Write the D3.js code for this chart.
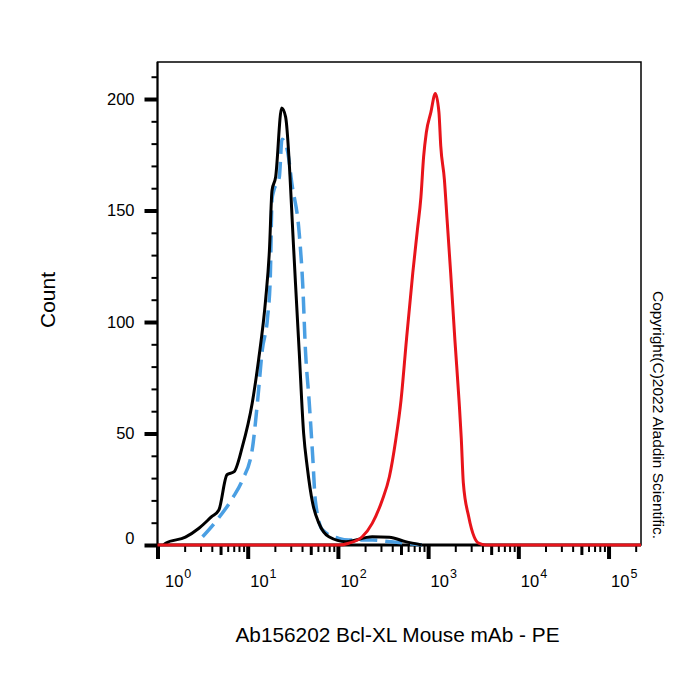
<!DOCTYPE html>
<html>
<head>
<meta charset="utf-8">
<script src="https://cdn.jsdelivr.net/npm/d3@7"></script>
<style>
   body { margin: 0; background: #fff; }
   text { font-family: "Liberation Sans", Arial, sans-serif; fill: #000; }
</style>
</head>
<body>
<div id="chart"></div>
<script>
// fluorescence (PE) values and event counts
const unstainedFL = [1.17, 1.23, 2.04, 2.88, 3.98, 4.79, 5.89, 7.08, 8.71, 11.2, 13.2, 15.8, 17.4, 18.6, 20.4, 23.8, 26.3, 32.4, 33.9, 37.2, 41.7, 45.7, 52.5, 61.7, 79.4, 123, 240, 372, 562, 851];
const unstainedCount = [0, 0.8, 3.5, 7.5, 12.7, 15.7, 31.5, 32.9, 44, 63.5, 83, 110, 132, 159, 165, 196, 192, 132, 117, 87, 50, 35, 18.7, 9.7, 3.7, 1.5, 3.7, 3.5, 1.5, 0];

const isotypeFL = [3.16, 4.57, 6.76, 8.71, 11.2, 12.9, 14.5, 16.6, 17.8, 18.6, 19.5, 22.4, 24.0, 27.5, 30.9, 37.2, 40.7, 43.7, 47.9, 52.5, 56.2, 67.6, 102, 132, 240, 372, 562, 851];
const isotypeCount = [3.7, 11.2, 20.9, 29, 42.6, 65, 87.4, 102, 120, 155, 159, 165, 182, 177, 162, 140, 117, 87, 65, 40, 20, 6.7, 3, 2.2, 2.2, 1.5, 0.8, 0];

const stainedFL = [1, 102, 132, 186, 240, 309, 372, 437, 501, 575, 676, 759, 832, 891, 955, 1072, 1202, 1318, 1380, 1514, 1622, 1778, 1980, 2200, 2330, 2455, 2818, 3236, 3631, 4365, 229000];
const stainedCount = [0, 0, 0.8, 3.7, 9.7, 20, 30.6, 47, 65, 92, 122, 141, 156, 174, 185, 194, 202.5, 194, 179, 164, 146, 122, 92, 65, 48, 28, 12.7, 3.7, 0.8, 0, 0];

const yMajorTicks = [0, 50, 100, 150, 200];
const xDecades = [0, 1, 2, 3, 4, 5];

const xTitle = 'Ab156202 Bcl-XL Mouse mAb - PE';
const yTitle = 'Count';
const copyright = 'Copyright(C)2022 Aladdin Scientific.';

const margin = { left: 157.5, right: 59, top: 62, bottom: 155 };
const width = 700 - margin.left - margin.right;
const height = 700 - margin.top - margin.bottom;

const svg = d3.select('#chart').append('svg')
   .attr('width', 700)
   .attr('height', 700);

const g = svg.append('g')
   .attr('transform', `translate(${margin.left}, ${margin.top})`);

const x = d3.scaleLog()
   .domain([1, 229000])
   .range([0, width]);

const y = d3.scaleLinear()
   .domain([0, 216.6])
   .range([height, 0]);

// minor / medium / major ticks on x
const xMinor = [];
const xMid = [];
xDecades.forEach(p => {
   for (let k = 2; k <= 9; k++) {
      const v = k * Math.pow(10, p);
      if (v > x.domain()[1]) continue;
      (k === 5 ? xMid : xMinor).push(v);
   }
});
const xMajor = xDecades.map(p => Math.pow(10, p));

const yMinor = d3.range(10, 220, 10).filter(v => v % 50 !== 0);

function styleTicks(sel, w) {
   sel.select('.domain').remove();
   sel.selectAll('.tick line').attr('stroke', '#000').attr('stroke-width', w);
}

g.append('g')
   .attr('transform', `translate(0, ${height})`)
   .call(d3.axisBottom(x).tickValues(xMinor).tickSize(7).tickFormat(() => ''))
   .call(s => styleTicks(s, 2));

g.append('g')
   .attr('transform', `translate(0, ${height})`)
   .call(d3.axisBottom(x).tickValues(xMid).tickSize(10).tickFormat(() => ''))
   .call(s => styleTicks(s, 3));

const xAxis = g.append('g')
   .attr('transform', `translate(0, ${height})`)
   .call(d3.axisBottom(x).tickValues(xMajor).tickSize(14).tickFormat(() => ''))
   .call(s => styleTicks(s, 4));

xAxis.selectAll('.tick text').remove();
xAxis.selectAll('.tick').each(function(d) {
   const t = d3.select(this).append('text')
      .attr('x', d === 1 ? 7 : 2)
      .attr('y', 42)
      .attr('text-anchor', 'start')
      .attr('font-size', '16.5px');
   t.append('tspan').text('10');
   t.append('tspan')
      .attr('font-size', '12.5px')
      .attr('dx', 1)
      .attr('dy', -9)
      .text(Math.round(Math.log10(d)));
});

g.append('g')
   .call(d3.axisLeft(y).tickValues(yMinor).tickSize(6).tickFormat(() => ''))
   .call(s => styleTicks(s, 2));

const yAxis = g.append('g')
   .call(d3.axisLeft(y).tickValues(yMajorTicks).tickSize(13).tickPadding(10))
   .call(s => styleTicks(s, 4));

yAxis.selectAll('.tick text')
   .attr('font-size', '16.5px')
   .attr('font-family', '"Liberation Sans", Arial, sans-serif')
   .attr('fill', '#000')
   .attr('dy', d => d === 0 ? '-0.1em' : '0.32em');

// frame
g.append('rect')
   .attr('width', width)
   .attr('height', height)
   .attr('fill', 'none')
   .attr('stroke', '#000')
   .attr('stroke-width', 1.5);

g.append('line')
   .attr('y1', 0)
   .attr('y2', height)
   .attr('stroke', '#000')
   .attr('stroke-width', 2);

g.append('line')
   .attr('x2', width)
   .attr('y1', height)
   .attr('y2', height)
   .attr('stroke', '#000')
   .attr('stroke-width', 3);

const line = d3.line()
   .x(d => x(d[0]))
   .y(d => y(d[1]))
   .curve(d3.curveMonotoneX);

const series = [
   { fl: isotypeFL, count: isotypeCount, color: '#4a9fe3', width: 3.5, dash: '17,8' },
   { fl: unstainedFL, count: unstainedCount, color: '#000000', width: 3, dash: null },
   { fl: stainedFL, count: stainedCount, color: '#e8141b', width: 3, dash: null }
];

series.forEach(s => {
   g.append('path')
      .datum(d3.zip(s.fl, s.count))
      .attr('d', line)
      .attr('fill', 'none')
      .attr('stroke', s.color)
      .attr('stroke-width', s.width)
      .attr('stroke-linejoin', 'round')
      .attr('stroke-dasharray', s.dash);
});

svg.append('text')
   .attr('x', 397.5)
   .attr('y', 642)
   .attr('text-anchor', 'middle')
   .attr('font-size', '20.8px')
   .text(xTitle);

svg.append('text')
   .attr('transform', 'translate(55, 300) rotate(-90)')
   .attr('text-anchor', 'middle')
   .attr('font-size', '21px')
   .text(yTitle);

svg.append('text')
   .attr('transform', 'translate(653, 415) rotate(90)')
   .attr('text-anchor', 'middle')
   .attr('font-size', '15.5px')
   .text(copyright);
</script>
</body>
</html>
